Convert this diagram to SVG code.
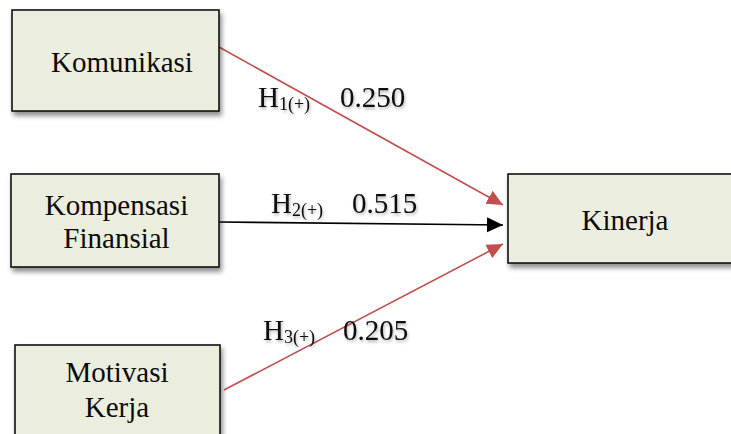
<svg xmlns="http://www.w3.org/2000/svg" width="731" height="434" viewBox="0 0 731 434">
  <style>
    .box { fill: #EBEEDE; stroke: #111111; stroke-width: 1.6; }
    .lbl { font-family: "Liberation Serif", "Times New Roman", serif; font-size: 29px; fill: #0A0A0A; }
    .sub { font-size: 18px; }
    .red { stroke: #C0504D; stroke-width: 1.6; fill: none; }
    .blk { stroke: #000000; stroke-width: 1.6; fill: none; }
  </style>
  <defs>
    <filter id="shadow" x="-10%" y="-10%" width="130%" height="140%">
      <feDropShadow dx="2" dy="4" stdDeviation="2.5" flood-color="#000000" flood-opacity="0.45"/>
    </filter>
    <filter id="glow" x="-10%" y="-20%" width="130%" height="150%">
      <feDropShadow dx="1" dy="2" stdDeviation="1.5" flood-color="#000000" flood-opacity="0.3"/>
    </filter>
    <marker id="headRed" markerUnits="userSpaceOnUse" markerWidth="17" markerHeight="17" refX="16" refY="8.5" orient="auto">
      <path d="M0,1 L16,8.5 L0,16 Z" fill="#C0504D"/>
    </marker>
    <marker id="headBlk" markerUnits="userSpaceOnUse" markerWidth="17" markerHeight="17" refX="16" refY="8.5" orient="auto">
      <path d="M0,1 L16,8.5 L0,16 Z" fill="#000000"/>
    </marker>
  </defs>

  <rect width="731" height="434" fill="#FFFFFF"/>

  <g id="connectors">
    <path class="red" d="M219,47 L503,205" marker-end="url(#headRed)"/>
    <path class="blk" d="M219,222 L503,225" marker-end="url(#headBlk)"/>
    <path class="red" d="M224,390 L503,244" marker-end="url(#headRed)"/>
  </g>

  <g id="komunikasi">
    <rect class="box" x="12" y="10" width="207" height="101" filter="url(#shadow)"/>
    <text class="lbl" x="122" y="72" text-anchor="middle">Komunikasi</text>
  </g>

  <g id="kompensasi-finansial">
    <rect class="box" x="11" y="174" width="208" height="93" filter="url(#shadow)"/>
    <text class="lbl" x="116.5" y="215" text-anchor="middle">Kompensasi</text>
    <text class="lbl" x="116.5" y="248" text-anchor="middle">Finansial</text>
  </g>

  <g id="motivasi-kerja">
    <rect class="box" x="15" y="345" width="205" height="100" filter="url(#shadow)"/>
    <text class="lbl" x="117" y="382" text-anchor="middle">Motivasi</text>
    <text class="lbl" x="117" y="417" text-anchor="middle">Kerja</text>
  </g>

  <g id="kinerja">
    <rect class="box" x="508" y="174" width="230" height="89" filter="url(#shadow)"/>
    <text class="lbl" x="625" y="230" text-anchor="middle">Kinerja</text>
  </g>

  <g id="labels" filter="url(#glow)">
    <text class="lbl" x="258" y="107">H<tspan class="sub" dy="3">1(+)</tspan></text>
    <text class="lbl" x="340" y="107">0.250</text>
    <text class="lbl" x="271" y="213">H<tspan class="sub" dy="3">2(+)</tspan></text>
    <text class="lbl" x="352" y="213">0.515</text>
    <text class="lbl" x="263" y="340">H<tspan class="sub" dy="3">3(+)</tspan></text>
    <text class="lbl" x="343" y="340">0.205</text>
  </g>
</svg>
